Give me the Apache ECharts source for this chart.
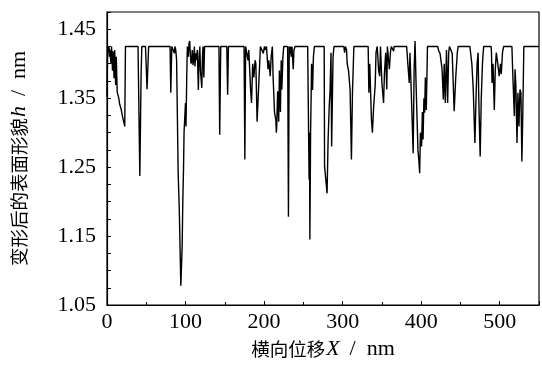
<!DOCTYPE html>
<html>
<head>
<meta charset="utf-8">
<script src="https://cdn.jsdelivr.net/npm/echarts/dist/echarts.min.js"></script>
<style>
  html, body { margin: 0; padding: 0; background: #fff; }
  #chart { width: 542px; height: 365px; }
</style>
</head>
<body>
<div id="chart"></div>
<script>
// surface profile after deformation: [X (nm), h (nm)]
const surfaceProfile = [
  [0, 1.352], [0.8, 1.425], [1.9, 1.416], [2.6, 1.425], [3, 1.41], [3.8, 1.42], [5, 1.40], [5.8, 1.425],
  [7, 1.39], [7.8, 1.418], [9, 1.379], [9.8, 1.42], [11, 1.369], [11.8, 1.41], [13, 1.359], [15, 1.35],
  [16, 1.342], [17, 1.338], [18, 1.334], [19, 1.328], [20, 1.322], [21, 1.317], [22.6, 1.309], [23.5, 1.425],
  [39.5, 1.425], [41.8, 1.237], [43.4, 1.382], [44.3, 1.425], [49, 1.425], [51, 1.363], [53, 1.425],
  [80.3, 1.425], [81.2, 1.358], [82.5, 1.425], [85, 1.425], [85.8, 1.415], [86.5, 1.425], [87.5, 1.42],
  [88.6, 1.406], [90.6, 1.241], [92, 1.19], [94, 1.078], [95.7, 1.135], [96.5, 1.20], [97.4, 1.246],
  [98.1, 1.30], [99.9, 1.343], [100.6, 1.309], [101.5, 1.38], [102.3, 1.425],
  [103.5, 1.41], [104.5, 1.43], [105.3, 1.433], [106, 1.415], [107, 1.40], [107.8, 1.404], [108.5, 1.42],
  [109.5, 1.398], [110.5, 1.41], [111.2, 1.425], [112, 1.396], [113, 1.415], [114, 1.405], [115, 1.42],
  [116.3, 1.362], [117.3, 1.41], [118.2, 1.425], [119, 1.39], [120.7, 1.365], [121.5, 1.41], [122.3, 1.425],
  [123.3, 1.38], [124.2, 1.425],
  [142.5, 1.425], [143.5, 1.297], [144.8, 1.425], [152.5, 1.425], [153.6, 1.355], [154.6, 1.425],
  [174.5, 1.425], [175.5, 1.261], [176.5, 1.425],
  [177.5, 1.425], [179.5, 1.405], [180.5, 1.42], [182.8, 1.3625], [184, 1.343], [185.5, 1.40], [187, 1.38],
  [188.5, 1.405], [189.5, 1.40], [191.1, 1.316], [192.4, 1.314], [194, 1.39], [195.3, 1.425],
  [197, 1.425], [199, 1.415], [200.5, 1.425], [201.5, 1.42], [203, 1.425], [204.5, 1.40], [205, 1.392],
  [206, 1.405], [207.8, 1.382], [209, 1.41], [210.5, 1.425], [211.5, 1.38], [213.3, 1.329], [214.9, 1.319],
  [215.6, 1.30], [216.1, 1.309], [217.2, 1.36], [218.6, 1.316], [219.5, 1.39], [220.8, 1.33], [221.8, 1.405],
  [222.6, 1.3625], [224, 1.41], [225, 1.425],
  [230, 1.425], [231, 1.178], [232, 1.425], [232.8, 1.415], [233.5, 1.425], [234.5, 1.41], [235.5, 1.425],
  [237.1, 1.392], [238, 1.42], [239.5, 1.425],
  [255.5, 1.425], [257.3, 1.232], [257.8, 1.30], [258.3, 1.145], [259.2, 1.30], [260.5, 1.40], [261.7, 1.362],
  [262.8, 1.41], [264, 1.425],
  [276.5, 1.425], [277, 1.251], [280.2, 1.212], [281.5, 1.29], [283, 1.34], [284, 1.36], [285.2, 1.416],
  [286, 1.28], [287.8, 1.41], [289, 1.425],
  [301.5, 1.425], [302.5, 1.416], [303.5, 1.425], [305, 1.42], [305.8, 1.40], [307.5, 1.39], [309.5, 1.3625],
  [311.2, 1.261], [312.5, 1.358], [314.3, 1.425],
  [332.5, 1.425], [333.4, 1.358], [334.5, 1.40], [336.7, 1.319], [337.9, 1.30], [339.5, 1.338], [341.5, 1.37],
  [342.5, 1.416], [344, 1.425], [345.9, 1.39], [347.2, 1.382], [348.2, 1.425], [350, 1.372], [352.1, 1.343],
  [353.2, 1.385], [354.8, 1.416], [356.2, 1.3625], [357, 1.425], [359.5, 1.392], [360.8, 1.416], [362, 1.425],
  [364.5, 1.425], [365, 1.418], [365.5, 1.425],
  [381.5, 1.425], [383, 1.40], [384.8, 1.372], [385.7, 1.416], [387.4, 1.358], [389, 1.30], [389.8, 1.27],
  [391, 1.39], [392.2, 1.433], [393.5, 1.37], [395.9, 1.275], [397, 1.26], [398.1, 1.241], [399, 1.30],
  [400.5, 1.28], [401.5, 1.33], [402.4, 1.29], [403.5, 1.35], [404.4, 1.329], [405.3, 1.38], [406.5, 1.333],
  [408, 1.425],
  [421, 1.425], [422.5, 1.418], [424, 1.415], [426.6, 1.392], [428.2, 1.348], [429.3, 1.40], [430.7, 1.343],
  [432.2, 1.42], [433.7, 1.343], [435, 1.416], [436, 1.425],
  [439.5, 1.415], [442, 1.331], [444, 1.38], [446, 1.416], [447, 1.425],
  [462, 1.425], [464.5, 1.40], [466.3, 1.3625], [468.4, 1.285], [470, 1.358], [471.2, 1.40], [472.5, 1.416],
  [473.3, 1.35], [475.1, 1.2656], [476.5, 1.35], [478, 1.40], [479.5, 1.425],
  [489, 1.425], [489.5, 1.416], [490.2, 1.372], [491.5, 1.40], [493.1, 1.333], [494.3, 1.39], [495.6, 1.416],
  [497.5, 1.40], [499.4, 1.382], [501, 1.40], [502, 1.385], [503.5, 1.416], [505, 1.425],
  [515.5, 1.425], [516.5, 1.39], [518.6, 1.324], [519.5, 1.392], [520.5, 1.37], [522, 1.285], [523.2, 1.358],
  [524.5, 1.309], [525.8, 1.3625], [527, 1.358], [528.2, 1.258], [529.4, 1.33], [530.7, 1.425], [550, 1.425]
];

const xTickLabels = ['0', '100', '200', '300', '400', '500'];
const yTickLabels = ['1.05', '1.15', '1.25', '1.35', '1.45'];

const serif = "'Liberation Serif', 'Times New Roman', serif";
const cjk = "'Noto Sans CJK SC', sans-serif";

// rich styles shared by both axis titles
const titleRich = {
  cn: { fontFamily: cjk, fontSize: 18.5, color: '#000' },
  i: { fontFamily: serif, fontSize: 22, fontStyle: 'italic', color: '#000', padding: [0, 0, 0, 1] },
  s: { fontFamily: serif, fontSize: 22, color: '#000', padding: [0, 11, 0, 10] },
  t: { fontFamily: serif, fontSize: 22, color: '#000' }
};

const chart = echarts.init(document.getElementById('chart'), null, { renderer: 'canvas' });

chart.setOption({
  animation: false,
  backgroundColor: '#fff',
  grid: {
    left: 106,
    top: 12,
    right: -3,
    bottom: 60,
    show: true,
    borderColor: '#000',
    borderWidth: 1.2
  },
  xAxis: {
    type: 'value',
    min: 0,
    max: 550,
    interval: 100,
    name: '{cn|横向位移}{i|X}{s|/}{t|nm}',
    nameLocation: 'middle',
    nameGap: 31,
    nameTextStyle: { rich: titleRich },
    axisLine: { lineStyle: { color: '#000', width: 1.2 } },
    axisTick: { inside: true, length: 4, lineStyle: { color: '#000' } },
    minorTick: { show: true, splitNumber: 2, length: 3, lineStyle: { color: '#000' } },
    axisLabel: {
      color: '#000',
      fontFamily: serif,
      fontSize: 22,
      margin: 6,
      formatter: (v) => (xTickLabels.includes(String(v)) ? String(v) : '')
    },
    splitLine: { show: false }
  },
  yAxis: {
    type: 'value',
    min: 1.05,
    max: 1.475,
    interval: 0.025,
    name: '{cn|变形后的表面形貌}{i|h}{s|/}{t|nm}',
    nameLocation: 'middle',
    nameGap: 77,
    nameTextStyle: { rich: titleRich },
    axisLine: { show: true, lineStyle: { color: '#000', width: 1.2 } },
    axisTick: { show: true, inside: true, length: 4, lineStyle: { color: '#000' } },
    axisLabel: {
      color: '#000',
      fontFamily: serif,
      fontSize: 22,
      margin: 11,
      formatter: (v) => {
        const s = v.toFixed(2);
        return yTickLabels.includes(s) && Math.abs(v - Number(s)) < 1e-6 ? s : '';
      }
    },
    splitLine: { show: false }
  },
  series: [
    {
      type: 'line',
      data: surfaceProfile,
      showSymbol: false,
      symbol: 'none',
      lineStyle: { color: '#000', width: 1.4 },
      emphasis: { disabled: true }
    }
  ]
});
</script>
</body>
</html>
